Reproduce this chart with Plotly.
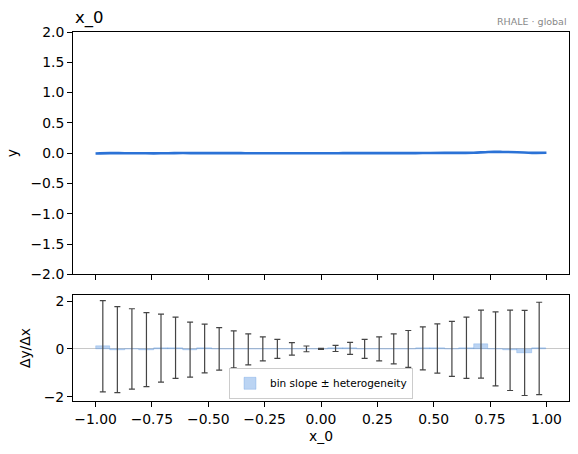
import plotly.graph_objects as go

# ---- data ----
n_bins = 31
bin_edges = [-1 + 2 * i / n_bins for i in range(n_bins + 1)]
bin_centers = [(bin_edges[i] + bin_edges[i + 1]) / 2 for i in range(n_bins)]
bin_width = 2 / n_bins

bin_slope = [0.11, -0.03, 0.0, -0.03, 0.03, 0.05, -0.03, 0.02, 0.0, -0.02,
             -0.02, 0.0, 0.0, 0.0, 0.0, 0.0, 0.02, 0.02, 0.0, 0.0,
             0.0, 0.0, 0.02, 0.02, 0.0, 0.05, 0.20, 0.0, -0.06, -0.17, 0.02]
heterogeneity = [1.91, 1.80, 1.68, 1.55, 1.42, 1.28, 1.15, 1.02, 0.89, 0.77,
                 0.65, 0.50, 0.40, 0.26, 0.12, 0.02, 0.13, 0.25, 0.40, 0.50,
                 0.63, 0.77, 0.90, 1.03, 1.15, 1.28, 1.42, 1.55, 1.68, 1.78, 1.93]

effect_y = [-0.004, 0.002, 0.000, 0.000, -0.002, 0.000, 0.003, 0.001,
            0.002, 0.002, 0.001, 0.000, 0.000, 0.000, 0.000, 0.000,
            0.000, 0.001, 0.002, 0.002, 0.002, 0.002, 0.002, 0.004,
            0.005, 0.005, 0.008, 0.021, 0.021, 0.017, 0.006, 0.007]

x_ticks = [-1.0, -0.75, -0.5, -0.25, 0.0, 0.25, 0.5, 0.75, 1.0]
x_tick_labels = ["−1.00", "−0.75", "−0.50", "−0.25", "0.00", "0.25", "0.50", "0.75", "1.00"]
top_y_ticks = [-2.0, -1.5, -1.0, -0.5, 0.0, 0.5, 1.0, 1.5, 2.0]
top_y_labels = ["−2.0", "−1.5", "−1.0", "−0.5", "0.0", "0.5", "1.0", "1.5", "2.0"]
bot_y_ticks = [-2, 0, 2]
bot_y_labels = ["−2", "0", "2"]

FONT = "DejaVu Sans"

fig = go.Figure()

fig.add_trace(go.Scatter(
    x=bin_edges, y=effect_y, mode="lines", line=dict(color="#2b72d6", width=2.6, shape="spline"),
    xaxis="x", yaxis="y", showlegend=False, hoverinfo="skip"))

fig.add_trace(go.Bar(
    x=bin_centers, y=bin_slope, width=bin_width,
    marker=dict(color="rgba(120,170,232,0.5)", line=dict(color="rgba(90,150,225,0.5)", width=0.6)),
    error_y=dict(type="data", array=heterogeneity, visible=True, color="#444444", thickness=1.2, width=3),
    xaxis="x2", yaxis="y2", name="bin slope ± heterogeneity", showlegend=True))

axis_common = dict(
    showline=True, linecolor="black", linewidth=1, mirror=True,
    ticks="outside", ticklen=5, tickcolor="black", tickwidth=1,
    showgrid=False,
    tickfont=dict(family=FONT, size=13.9, color="black"),
)

fig.update_layout(
    width=578, height=454,
    margin=dict(l=73, r=9, t=32, b=53),
    paper_bgcolor="white", plot_bgcolor="white",
    font=dict(family=FONT, color="black"),
    bargap=0,
    xaxis=dict(domain=[0, 1], anchor="y", range=[-1.1, 1.1], tickvals=x_ticks,
               showticklabels=False, zeroline=False, **axis_common),
    yaxis=dict(domain=[0.343, 1], anchor="x", range=[-2, 2], tickvals=top_y_ticks,
               ticktext=top_y_labels, zeroline=False,
               title=dict(text="y", font=dict(family=FONT, size=13.9), standoff=9),
               **axis_common),
    xaxis2=dict(domain=[0, 1], anchor="y2", range=[-1.1, 1.1], tickvals=x_ticks,
                ticktext=x_tick_labels, matches="x", zeroline=False,
                title=dict(text="x_0", font=dict(family=FONT, size=13.9), standoff=5),
                **axis_common),
    yaxis2=dict(domain=[0, 0.287], anchor="x2", range=[-2.18, 2.25], tickvals=bot_y_ticks,
                ticktext=bot_y_labels,
                title=dict(text="Δy/Δx", font=dict(family=FONT, size=13.9), standoff=9),
                zeroline=True, zerolinecolor="#c8c8c8", zerolinewidth=1.2,
                **axis_common),
    legend=dict(x=0.5, y=0.048, xanchor="center", yanchor="middle", xref="paper", yref="paper",
                bgcolor="rgba(255,255,255,0.8)", bordercolor="#cccccc", borderwidth=1,
                font=dict(family=FONT, size=10.5), itemwidth=30, tracegroupgap=0),
    annotations=[
        dict(text="x_0", x=0, y=1, xref="paper", yref="paper", xanchor="left", yanchor="bottom",
             yshift=2, showarrow=False, font=dict(family=FONT, size=16.5, color="black")),
        dict(text="RHALE · global", x=1, y=1, xref="paper", yref="paper", xanchor="right",
             yanchor="bottom", yshift=3, showarrow=False, font=dict(family=FONT, size=9.5, color="#888888")),
    ],
)

fig.write_html("out.html")
